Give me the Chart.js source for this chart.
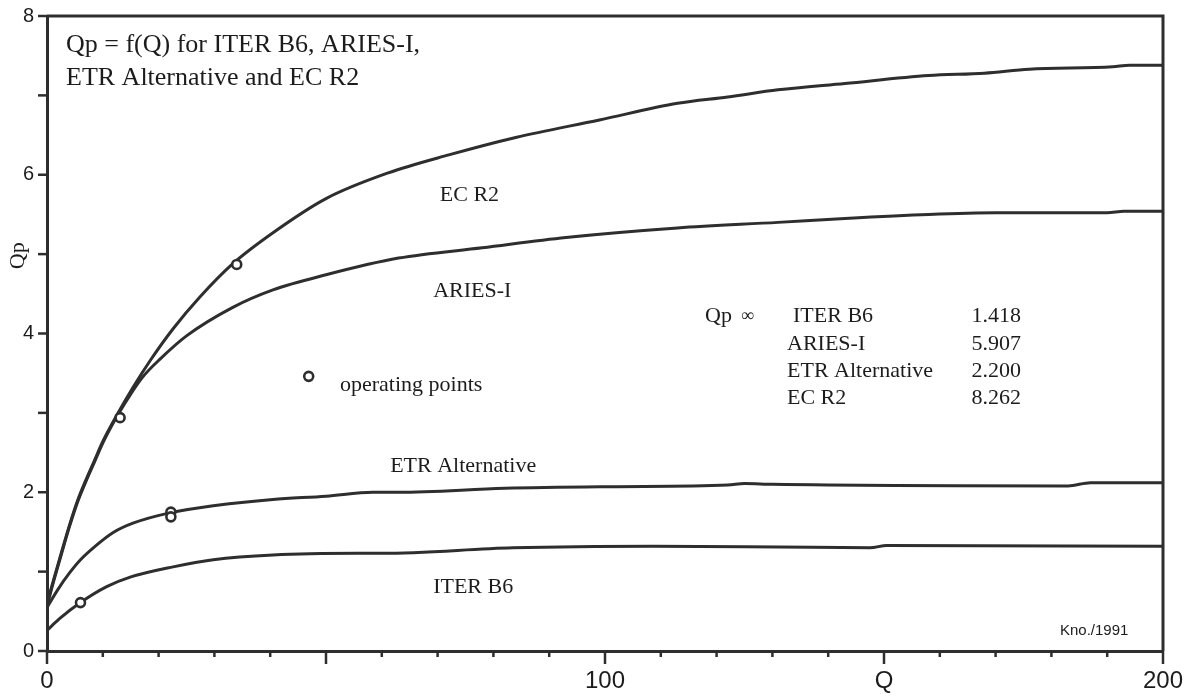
<!DOCTYPE html>
<html><head><meta charset="utf-8">
<script src="https://cdn.jsdelivr.net/npm/chart.js@4"></script>
<style>html,body{margin:0;padding:0;background:#fff}</style>
</head><body>
<canvas id="c" width="1198" height="697"></canvas>
<script>
// ---- data ----
const ecQ   = [0, 1, 2.5, 4, 5.5, 7, 8.5, 10, 12.5, 15.4, 18.5, 22.6, 27.4, 33.3, 40.5, 50, 61, 72, 84, 99, 113, 122, 131, 143, 158, 168, 176, 191, 194, 200];
const ecQp  = [0.60, 0.85, 1.22, 1.58, 1.90, 2.16, 2.40, 2.64, 2.97, 3.32, 3.66, 4.06, 4.46, 4.88, 5.27, 5.70, 6.02, 6.25, 6.47, 6.69, 6.90, 6.98, 7.07, 7.15, 7.25, 7.28, 7.33, 7.36, 7.38, 7.38];
const ariesQ  = [0, 1, 2.5, 4, 5.5, 7, 8.5, 10, 12.5, 15.4, 17, 20.3, 25, 33.3, 40.5, 50, 63, 78, 93, 113, 131, 143, 158, 170, 190, 193, 200];
const ariesQp = [0.56, 0.83, 1.20, 1.56, 1.88, 2.14, 2.38, 2.62, 2.95, 3.28, 3.44, 3.68, 3.97, 4.33, 4.55, 4.74, 4.95, 5.08, 5.21, 5.33, 5.40, 5.45, 5.50, 5.52, 5.52, 5.54, 5.54];
const etrQ  = [0, 2, 4, 6, 8.3, 11.8, 15.4, 22, 29.8, 40.5, 50, 58.4, 63, 82, 101, 122, 125, 130, 183, 187, 200];
const etrQp = [0.55, 0.78, 0.98, 1.15, 1.30, 1.49, 1.61, 1.74, 1.83, 1.91, 1.95, 2.00, 2.00, 2.05, 2.07, 2.09, 2.11, 2.10, 2.08, 2.12, 2.12];
const iterQ  = [0, 2.3, 6, 10.7, 14.9, 22.6, 29.8, 40.5, 55.6, 60, 83.5, 108.6, 131, 147.5, 150.5, 200];
const iterQp = [0.26, 0.41, 0.61, 0.81, 0.93, 1.06, 1.15, 1.21, 1.23, 1.23, 1.30, 1.32, 1.31, 1.30, 1.33, 1.32];
const opQ  = [6.0, 22.2, 22.2, 13.1, 34.0];
const opQp = [0.61, 1.75, 1.69, 2.94, 4.87];
const legendMarkerQ = [46.9];
const legendMarkerQp = [3.46];
const xTickLabels = {0: '0', 100: '100', 150: 'Q', 200: '200'};
const yTickLabels = {0: '0', 2: '2', 4: '4', 6: '6', 8: '8'};
const qpInfNames  = ['ITER B6', 'ARIES-I', 'ETR Alternative', 'EC R2'];
const qpInfValues = ['1.418', '5.907', '2.200', '8.262'];
const curveLabels = [
  {text: 'EC R2', q: 70.4, qp: 5.67},
  {text: 'ARIES-I', q: 69.2, qp: 4.46},
  {text: 'ETR Alternative', q: 61.5, qp: 2.26},
  {text: 'ITER B6', q: 69.2, qp: 0.73}
];

const pts = (xs, ys) => xs.map((x, i) => ({x: x, y: ys[i]}));
const INK = '#2e2e2e';
const TXT = '#1c1c1c';
const SERIF = '"Liberation Serif", "Times New Roman", serif';
const SANS = '"Liberation Sans", Arial, sans-serif';

const curve = (label, data) => ({
  label, data, showLine: true, pointRadius: 0, borderColor: INK, borderWidth: 3,
  cubicInterpolationMode: 'monotone', fill: false, order: 1
});

const decor = {
  id: 'decor',
  afterDraw(chart) {
    const ctx = chart.ctx, a = chart.chartArea;
    const xs = chart.scales.x, ys = chart.scales.y;
    ctx.save();
    ctx.strokeStyle = INK;
    ctx.lineCap = 'butt';
    // frame top & right
    ctx.lineWidth = 3;
    ctx.beginPath();
    ctx.moveTo(a.left, a.top); ctx.lineTo(a.right, a.top); ctx.lineTo(a.right, a.bottom);
    ctx.stroke();
    // x ticks
    ctx.lineWidth = 2.5;
    xs.ticks.forEach(t => {
      const px = xs.getPixelForValue(t.value);
      const len = (t.value % 50 === 0) ? 13 : 6;
      ctx.beginPath(); ctx.moveTo(px, a.bottom); ctx.lineTo(px, a.bottom + len); ctx.stroke();
    });
    // y ticks
    ys.ticks.forEach(t => {
      const py = ys.getPixelForValue(t.value);
      ctx.beginPath(); ctx.moveTo(a.left, py); ctx.lineTo(a.left - 9, py); ctx.stroke();
    });
    // y axis title "Qp" rotated at value 5
    ctx.fillStyle = TXT;
    ctx.save();
    ctx.translate(18, ys.getPixelForValue(4.98));
    ctx.rotate(-Math.PI / 2);
    ctx.font = '22px ' + SERIF;
    ctx.textAlign = 'center'; ctx.textBaseline = 'middle';
    ctx.fillText('Qp', 0, 0);
    ctx.restore();
    // title
    ctx.font = '26px ' + SERIF;
    ctx.textAlign = 'left'; ctx.textBaseline = 'alphabetic';
    ctx.fillText('Qp = f(Q) for ITER B6, ARIES-I,', a.left + 19, a.top + 36);
    ctx.fillText('ETR Alternative and EC R2', a.left + 19, a.top + 69);
    // curve labels
    ctx.font = '22px ' + SERIF;
    curveLabels.forEach(l => {
      ctx.fillText(l.text, xs.getPixelForValue(l.q), ys.getPixelForValue(l.qp));
    });
    // operating points legend text
    ctx.fillText('operating points', xs.getPixelForValue(52.5), ys.getPixelForValue(3.27));
    // Qp infinity table
    const rowY = [322, 350, 377, 404];
    ctx.fillText('Qp', 705, rowY[0]);
    ctx.font = '18px ' + SERIF;
    ctx.fillText('\u221E', 741, rowY[0] - 1);
    ctx.font = '22px ' + SERIF;
    qpInfNames.forEach((n, i) => {
      ctx.textAlign = 'left';
      ctx.fillText(n, i === 0 ? 793 : 787, rowY[i]);
      ctx.textAlign = 'right';
      ctx.fillText(qpInfValues[i], 1021, rowY[i]);
    });
    // signature
    ctx.textAlign = 'left';
    ctx.font = '15px ' + SANS;
    ctx.fillText('Kno./1991', 1060, 635);
    ctx.restore();
  }
};

new Chart(document.getElementById('c'), {
  type: 'scatter',
  data: {
    datasets: [
      {label: 'operating points', data: pts(opQ, opQp).concat(pts(legendMarkerQ, legendMarkerQp)),
       showLine: false, pointRadius: 4.5, pointBorderWidth: 2.6, borderColor: INK,
       backgroundColor: '#fff', order: 0},
      curve('EC R2', pts(ecQ, ecQp)),
      curve('ARIES-I', pts(ariesQ, ariesQp)),
      curve('ETR Alternative', pts(etrQ, etrQp)),
      curve('ITER B6', pts(iterQ, iterQp))
    ]
  },
  options: {
    responsive: false,
    animation: false,
    layout: {padding: {left: 0, top: 16, right: 35, bottom: 0}},
    plugins: {legend: {display: false}, tooltip: {enabled: false}},
    scales: {
      x: {
        type: 'linear', min: 0, max: 200,
        afterFit: s => { s.height = 46; s.paddingLeft = 0; s.paddingRight = 0; },
        grid: {display: true, drawOnChartArea: false, drawTicks: false},
        border: {display: true, width: 3, color: INK},
        ticks: {stepSize: 10, autoSkip: false, maxRotation: 0, padding: 16,
          color: TXT, font: {family: SANS, size: 24},
          callback: v => (xTickLabels[v] !== undefined ? xTickLabels[v] : '')}
      },
      y: {
        type: 'linear', min: 0, max: 8,
        afterFit: s => { s.width = 47; s.paddingTop = 0; s.paddingBottom = 0; },
        grid: {display: true, drawOnChartArea: false, drawTicks: false},
        border: {display: true, width: 3, color: INK},
        ticks: {stepSize: 1, autoSkip: false, padding: 13,
          color: TXT, font: {family: SANS, size: 20},
          callback: v => (yTickLabels[v] !== undefined ? yTickLabels[v] : '')}
      }
    }
  },
  plugins: [decor]
});
</script>
</body></html>
